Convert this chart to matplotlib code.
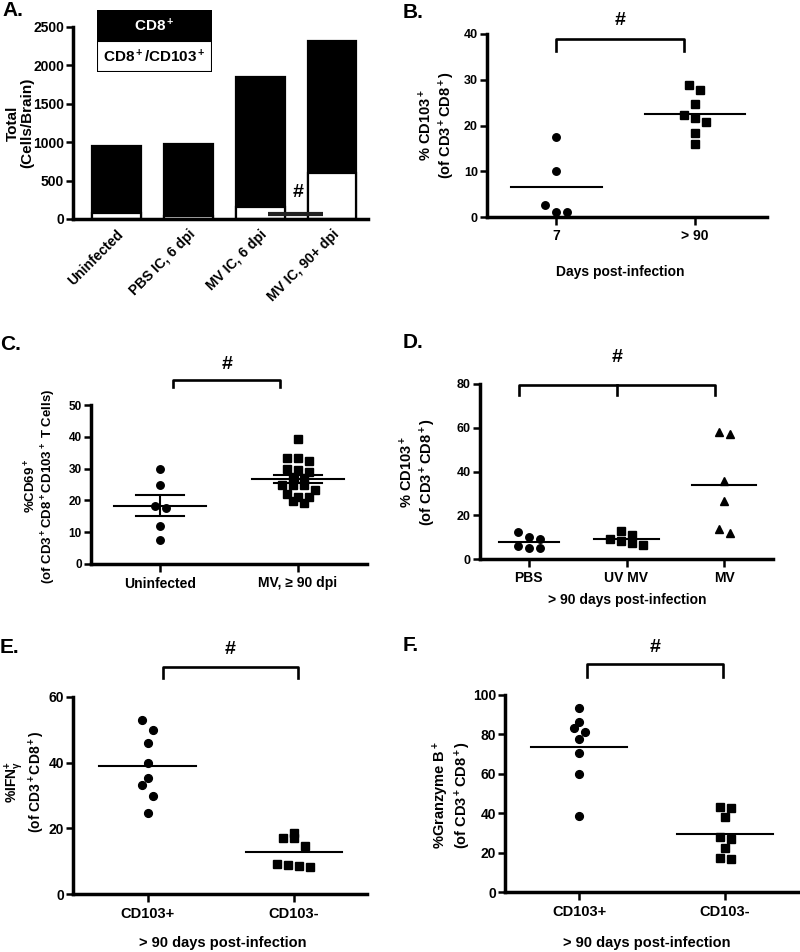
import matplotlib
matplotlib.use('Agg')
import matplotlib.pyplot as plt
import numpy as np
from matplotlib.patches import Rectangle

plt.rcParams['font.family'] = ['Liberation Sans', 'DejaVu Sans']
plt.rcParams['font.weight'] = 'bold'
plt.rcParams['mathtext.fontset'] = 'custom'
plt.rcParams['mathtext.rm'] = 'Liberation Sans:bold'
plt.rcParams['mathtext.it'] = 'Liberation Sans:bold'
plt.rcParams['mathtext.bf'] = 'Liberation Sans:bold'
plt.rcParams['mathtext.default'] = 'rm'

# ---- data ----
# A: total cells per brain
a_groups = ['Uninfected', 'PBS IC, 6 dpi', 'MV IC, 6 dpi', 'MV IC, 90+ dpi']
a_cd8 = [955, 978, 1852, 2322]
a_cd103 = [74, 43, 152, 603]
a_series = ['CD8$^+$', 'CD8$^+$/CD103$^+$']

# B: % CD103+ by days post-infection
b_groups = ['7', '> 90']
b_day7 = [17.5, 10.1, 2.7, 1.2, 1.2]
b_day90 = [28.9, 27.8, 24.8, 21.6, 22.2, 20.8, 18.3, 16.0]

# C: % CD69+
c_groups = ['Uninfected', 'MV, \u2265 90 dpi']
c_uninf = [29.9, 25.0, 17.7, 18.3, 11.8, 7.6]
c_mv = [39.4, 33.2, 32.5, 33.2, 29.8, 28.9, 29.5, 26.9, 27.5,
        24.7, 24.7, 23.3, 24.7, 21.9, 21.0, 21.2, 19.1, 19.9]

# D: % CD103+ at > 90 days
d_groups = ['PBS', 'UV MV', 'MV']
d_pbs = [12.2, 10.2, 9.1, 6.1, 5.2, 5.2]
d_uvmv = [10.8, 8.4, 12.8, 6.6, 7.3, 9.1]
d_mv = [58.1, 57.0, 35.8, 26.7, 12.0, 13.9]

# E: % IFNg+
e_groups = ['CD103+', 'CD103-']
e_pos = [53.1, 49.8, 46.1, 40.0, 35.2, 33.1, 30.0, 24.8]
e_neg = [18.7, 17.0, 17.0, 14.6, 8.7, 8.3, 8.6, 9.0]

# F: % Granzyme B+
f_groups = ['CD103+', 'CD103-']
f_pos = [93.2, 86.4, 81.2, 83.1, 77.6, 70.5, 59.8, 38.5]
f_neg = [43.1, 42.5, 38.1, 28.1, 27.1, 22.5, 16.6, 17.3]

W, H = 800, 952
fig = plt.figure(figsize=(W / 100, H / 100), dpi=100)


def make_ax(l, t, r, b, xlim, ylim):
    ax = fig.add_axes([l / W, 1 - b / H, (r - l) / W, (b - t) / H])
    ax.set_xlim(xlim)
    ax.set_ylim(ylim)
    for s in ['top', 'right']:
        ax.spines[s].set_visible(False)
    for s in ['left', 'bottom']:
        ax.spines[s].set_linewidth(2.5)
    ax.tick_params(direction='out', length=5, width=1.8, pad=1.5)
    ax.patch.set_alpha(0)
    return ax


def swarm(ax, vals, pos, row_px, step_px=11):
    # prism-like rows: nearby values share a row and spread sideways
    bb = ax.get_position()
    x0, x1 = ax.get_xlim()
    y0, y1 = ax.get_ylim()
    xpx = bb.width * W / (x1 - x0)
    ypx = bb.height * H / (y1 - y0)
    vals = np.asarray(vals, float)
    rows = []
    for i in np.argsort(vals):
        if rows and (vals[i] - vals[rows[-1][0]]) * ypx <= row_px:
            rows[-1].append(i)
        else:
            rows.append([i])
    xs = np.zeros(len(vals))
    for row in rows:
        row = sorted(row, key=lambda i: -vals[i])
        k = len(row)
        for j, i in enumerate(row):
            xs[i] = pos + (j - (k - 1) / 2) * step_px / xpx
    return xs


def dots(ax, pos, vals, marker, ms=5.4, row_px=7, half=0.33):
    xs = swarm(ax, vals, pos, row_px)
    ax.plot(xs, vals, ls='none', marker=marker, ms=ms, color='black', mec='black', clip_on=False)
    m = np.mean(vals)
    ax.plot([pos - half, pos + half], [m, m], color='black', lw=1.5)


def bracket(ax, x0, x1, top, drop, hash_pt, mid=None):
    ax.plot([x0, x0, x1, x1], [top - drop, top, top, top - drop], color='black', lw=1.9,
            clip_on=False, solid_joinstyle='round')
    if mid is not None:
        ax.plot([mid, mid], [top, top - drop], color='black', lw=1.9, clip_on=False)
    ax.annotate('#', ((x0 + x1) / 2, top), xytext=(0, hash_pt), textcoords='offset points',
                ha='center', va='center', fontsize=14, fontweight='bold', annotation_clip=False)


def ylab(x, y, text, size=10):
    fig.text(x / W, 1 - y / H, text, rotation=90, ha='center', va='center', fontsize=size,
             fontweight='bold', linespacing=1.1, multialignment='center')


def xlab(x, y, text, size=10):
    fig.text(x / W, 1 - y / H, text, ha='center', va='center', fontsize=size, fontweight='bold')


def letter(x, y, text):
    fig.text(x / W, 1 - y / H, text, ha='left', va='top', fontsize=15, fontweight='bold')


# ---------------- A ----------------
ax = make_ax(73, 27, 368, 219, (-0.6, 3.5), (0, 2500))
xa = np.arange(len(a_groups))
ax.bar(xa, a_cd8, width=0.68, color='black', edgecolor='black', lw=1.6, label=a_series[0])
ax.bar(xa, a_cd103, width=0.68, color='white', edgecolor='black', lw=1.6, label=a_series[1])
ax.set_yticks([0, 500, 1000, 1500, 2000, 2500])
ax.set_xticks(xa)
ax.set_xticklabels(a_groups, rotation=45, ha='right', rotation_mode='anchor')
ax.tick_params(axis='x', length=0, pad=6, labelsize=10)
ax.tick_params(axis='y', labelsize=10)
ax.plot([2.11, 2.875], [65, 65], color='#222222', lw=3, solid_capstyle='butt')
ax.text(2.53, 339, '#', ha='center', va='center', fontsize=14, fontweight='bold')
ylab(20, 123, 'Total\n(Cells/Brain)', 11)

# legend box
lg = fig.add_axes([97 / W, 1 - 72 / H, 115 / W, 62 / H])
lg.set_xlim(0, 1)
lg.set_ylim(0, 1)
lg.axis('off')
lg.add_patch(Rectangle((0, 0.5), 1, 0.5, facecolor='black', edgecolor='black', lw=1.5))
lg.add_patch(Rectangle((0, 0), 1, 0.5, facecolor='white', edgecolor='black', lw=1.5))
lg.text(0.5, 0.75, a_series[0], color='white', ha='center', va='center', fontsize=11, fontweight='bold')
lg.text(0.5, 0.25, a_series[1], color='black', ha='center', va='center', fontsize=11, fontweight='bold')
letter(2, 1, 'A.')

# ---------------- B ----------------
ax = make_ax(487, 34, 767, 217, (-0.5, 1.52), (0, 40))
dots(ax, 0, b_day7, 'o', row_px=7)
dots(ax, 1, b_day90, 's', row_px=7, half=0.36)
ax.set_yticks([0, 10, 20, 30, 40])
ax.set_xticks([0, 1])
ax.set_xticklabels(b_groups)
ax.tick_params(axis='y', labelsize=9)
ax.tick_params(axis='x', labelsize=10, length=6, pad=3)
bracket(ax, 0, 0.92, 38.9, 2.6, 13)
ylab(437, 125, '% CD103$^+$\n(of CD3$^+$CD8$^+$)', 10.5)
xlab(620, 272, 'Days post-infection', 10)
letter(403, 3, 'B.')

# ---------------- C ----------------
ax = make_ax(91, 405, 367, 564, (-0.5, 1.5), (0, 50))
for pos, vals, mk in [(0, c_uninf, 'o'), (1, c_mv, 's')]:
    dots(ax, pos, vals, mk, row_px=5)
    m = np.mean(vals)
    sem = np.std(vals, ddof=1) / np.sqrt(len(vals))
    ax.errorbar(pos, m, yerr=sem, color='black', lw=1.5, capsize=0, zorder=3)
    for yy in (m - sem, m + sem):
        ax.plot([pos - 0.175, pos + 0.175], [yy, yy], color='black', lw=1.5)
ax.set_yticks([0, 10, 20, 30, 40, 50])
ax.set_xticks([0, 1])
ax.set_xticklabels(c_groups)
ax.tick_params(axis='y', labelsize=8.5)
ax.tick_params(axis='x', labelsize=10, length=6, pad=3)
bracket(ax, 0.096, 0.87, 57.8, 2.2, 11)
ylab(41, 486, '%CD69$^+$\n(of CD3$^+$CD8$^+$CD103$^+$ T Cells)', 9.5)
letter(0, 335, 'C.')

# ---------------- D ----------------
ax = make_ax(480, 384, 773, 559, (-0.5, 2.5), (0, 80))
dots(ax, 0, d_pbs, 'o', row_px=7, half=0.31)
dots(ax, 1, d_uvmv, 's', row_px=7)
dots(ax, 2, d_mv, '^', ms=5.8, row_px=7)
ax.set_yticks([0, 20, 40, 60, 80])
ax.set_xticks([0, 1, 2])
ax.set_xticklabels(d_groups)
ax.tick_params(axis='y', labelsize=9)
ax.tick_params(axis='x', labelsize=10, length=6, pad=3)
bracket(ax, -0.1, 1.91, 79.5, 4.5, 20, mid=0.9)
ylab(418, 472, '% CD103$^+$\n(of CD3$^+$CD8$^+$)', 10.5)
xlab(627, 600, '> 90 days post-infection', 10)
letter(403, 333, 'D.')

# ---------------- E ----------------
ax = make_ax(73, 697, 367, 894, (-0.51, 1.5), (0, 60))
dots(ax, 0, e_pos, 'o', ms=5.6, row_px=11)
dots(ax, 1, e_neg, 's', ms=5.6, row_px=11)
ax.set_yticks([0, 20, 40, 60])
ax.set_xticks([0, 1])
ax.set_xticklabels(e_groups)
ax.tick_params(axis='y', labelsize=10)
ax.tick_params(axis='x', labelsize=10.5, length=6, pad=3)
bracket(ax, 0.105, 1.03, 69, 3.3, 13)
ylab(25, 782, '%IFN$_{\\gamma}^{+}$\n(of CD3$^+$CD8$^+$)', 10)
xlab(223, 943, '> 90 days post-infection', 10.5)
letter(0, 638, 'E.')

# ---------------- F ----------------
ax = make_ax(505, 695, 798, 892, (-0.51, 1.5), (0, 100))
dots(ax, 0, f_pos, 'o', ms=5.6, row_px=7)
dots(ax, 1, f_neg, 's', ms=5.6, row_px=7)
ax.set_yticks([0, 20, 40, 60, 80, 100])
ax.set_xticks([0, 1])
ax.set_xticklabels(f_groups)
ax.tick_params(axis='y', labelsize=10)
ax.tick_params(axis='x', labelsize=10.5, length=6, pad=3)
bracket(ax, 0.055, 0.986, 115.8, 6.6, 12)
ylab(452, 795, '%Granzyme B$^+$\n(of CD3$^+$CD8$^+$)', 10.5)
xlab(647, 943, '> 90 days post-infection', 10.5)
letter(403, 636, 'F.')

fig.savefig('out.png', dpi=100)
